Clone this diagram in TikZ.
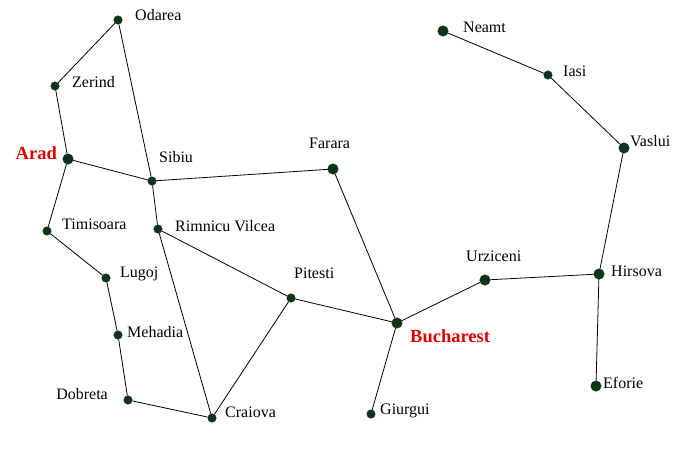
\documentclass[tikz,border=0pt]{standalone}
\usepackage{fontspec}
\setmainfont{Liberation Serif}
\usetikzlibrary{positioning}
\definecolor{pontzold}{RGB}{12,52,22}
\definecolor{fopiros}{RGB}{225,0,0}
\tikzset{
  varos/.style={circle,draw=pontzold,fill=pontzold,inner sep=0pt,minimum size=8.5pt},
  nagyvaros/.style={varos,minimum size=10.5pt},
  nev/.style={inner sep=0pt,font=\fontsize{16}{18}\selectfont},
  fonev/.style={nev,text=fopiros,font=\fontsize{18.5}{20}\selectfont\bfseries},
  ut/.style={line width=0.8pt},
}
\begin{document}
\begin{tikzpicture}[x=1pt,y=-1pt]
  \useasboundingbox (0,0) rectangle (686,448);
  % varosok
  \node[varos] (odarea) at (118,20) {};
  \node[varos] (zerind) at (55,86) {};
  \node[nagyvaros] (arad) at (68,159) {};
  \node[varos] (sibiu) at (152,181) {};
  \node[nagyvaros] (farara) at (333,169) {};
  \node[varos] (timisoara) at (47,231) {};
  \node[varos] (rimnicu) at (158,229) {};
  \node[varos] (lugoj) at (106,278) {};
  \node[varos] (mehadia) at (118,335) {};
  \node[varos] (dobreta) at (128,400) {};
  \node[varos] (craiova) at (212,418) {};
  \node[varos] (pitesti) at (291,298) {};
  \node[nagyvaros] (bucharest) at (397,323) {};
  \node[varos] (giurgui) at (371,414) {};
  \node[nagyvaros] (urziceni) at (485,280) {};
  \node[nagyvaros] (hirsova) at (599,274) {};
  \node[nagyvaros] (eforie) at (596,386) {};
  \node[nagyvaros] (vaslui) at (624,148) {};
  \node[varos] (iasi) at (548,75) {};
  \node[nagyvaros] (neamt) at (443,31) {};
  % nevek
  \node[nev,anchor=west] (n-odarea) at (135,15) {Odarea};
  \node[nev,anchor=west] (n-zerind) at (72,82) {Zerind};
  \node[fonev,anchor=east] (n-arad) at (57,153) {Arad};
  \node[nev,anchor=west] (n-sibiu) at (159,157) {Sibiu};
  \node[nev,anchor=west] (n-farara) at (309,143) {Farara};
  \node[nev,anchor=west] (n-timisoara) at (62,224) {Timisoara};
  \node[nev,anchor=west] (n-rimnicu) at (175,226) {Rimnicu Vilcea};
  \node[nev,anchor=west] (n-lugoj) at (120,274) {Lugoj};
  \node[nev,anchor=west] (n-mehadia) at (127,332) {Mehadia};
  \node[nev,anchor=east] (n-dobreta) at (108,394) {Dobreta};
  \node[nev,anchor=west] (n-craiova) at (225,412) {Craiova};
  \node[nev,anchor=west] (n-pitesti) at (294,273) {Pitesti};
  \node[fonev,anchor=west] (n-bucharest) at (410,336) {Bucharest};
  \node[nev,anchor=west] (n-giurgui) at (380,411) {Giurgui};
  \node[nev,anchor=west] (n-urziceni) at (466,256) {Urziceni};
  \node[nev,anchor=west] (n-hirsova) at (611,271) {Hirsova};
  \node[nev,anchor=west] (n-eforie) at (603,383) {Eforie};
  \node[nev,anchor=west] (n-vaslui) at (630,141) {Vaslui};
  \node[nev,anchor=west] (n-iasi) at (563,71) {Iasi};
  \node[nev,anchor=west] (n-neamt) at (463,27) {Neamt};
  % utak
  \draw[ut] (odarea) -- (zerind);
  \draw[ut] (odarea) -- (sibiu);
  \draw[ut] (zerind) -- (arad);
  \draw[ut] (arad) -- (sibiu);
  \draw[ut] (arad) -- (timisoara);
  \draw[ut] (timisoara) -- (lugoj);
  \draw[ut] (lugoj) -- (mehadia);
  \draw[ut] (mehadia) -- (dobreta);
  \draw[ut] (dobreta) -- (craiova);
  \draw[ut] (sibiu) -- (farara);
  \draw[ut] (sibiu) -- (rimnicu);
  \draw[ut] (rimnicu) -- (craiova);
  \draw[ut] (rimnicu) -- (pitesti);
  \draw[ut] (craiova) -- (pitesti);
  \draw[ut] (pitesti) -- (bucharest);
  \draw[ut] (farara) -- (bucharest);
  \draw[ut] (bucharest) -- (giurgui);
  \draw[ut] (bucharest) -- (urziceni);
  \draw[ut] (urziceni) -- (hirsova);
  \draw[ut] (hirsova) -- (vaslui);
  \draw[ut] (hirsova) -- (eforie);
  \draw[ut] (vaslui) -- (iasi);
  \draw[ut] (iasi) -- (neamt);
\end{tikzpicture}
\end{document}
